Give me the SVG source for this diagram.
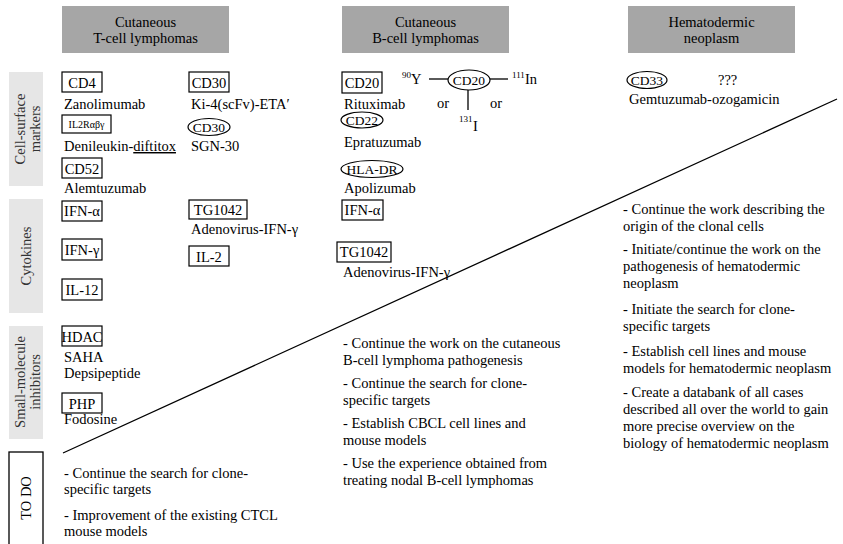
<svg xmlns="http://www.w3.org/2000/svg" width="843" height="544" viewBox="0 0 843 544">
<style>
text{font-family:"Liberation Serif","Times New Roman",serif;font-size:14.5px;fill:#000}
.hdr rect{fill:#a6a6a6}
.hdr text{text-anchor:middle}
.side rect{fill:#e6e6e6}
.side text{fill:#333;text-anchor:middle}
.bx{fill:#fff;stroke:#000;stroke-width:1.2}
.el{fill:none;stroke:#000;stroke-width:1.2}
.c{text-anchor:middle}
.e{text-anchor:middle;font-size:13.5px}
.sup{font-size:9px}
.ln{stroke:#000;stroke-width:1.3;fill:none}
</style>
<rect width="843" height="544" fill="#fff"/>

<g id="header-ctcl" class="hdr"><rect x="62" y="6" width="167" height="47"/><text x="145.5" y="27">Cutaneous</text><text x="145.5" y="43">T-cell lymphomas</text></g>
<g id="header-cbcl" class="hdr"><rect x="342" y="6" width="167" height="47"/><text x="425.5" y="27">Cutaneous</text><text x="425.5" y="43">B-cell lymphomas</text></g>
<g id="header-hdn" class="hdr"><rect x="628" y="6" width="167" height="47"/><text x="711.5" y="27">Hematodermic</text><text x="711.5" y="43">neoplasm</text></g>

<g id="side-cell-surface" class="side"><rect x="9" y="72" width="34" height="114"/><text transform="translate(25,129) rotate(-90)">Cell-surface</text><text transform="translate(40,129) rotate(-90)">markers</text></g>
<g id="side-cytokines" class="side"><rect x="9" y="199" width="34" height="114"/><text transform="translate(31,256) rotate(-90)">Cytokines</text></g>
<g id="side-small-molecule" class="side"><rect x="9" y="326" width="34" height="113"/><text transform="translate(25,382) rotate(-90)">Small-molecule</text><text transform="translate(40,382) rotate(-90)">inhibitors</text></g>
<g id="side-todo"><rect x="9" y="452" width="34" height="100" fill="#fff" stroke="#000" stroke-width="1.3"/><text transform="translate(31,498) rotate(-90)" text-anchor="middle">TO DO</text></g>

<g id="connectors">
<line class="ln" x1="63" y1="453" x2="837" y2="99"/>
<line class="ln" x1="429" y1="79" x2="448" y2="79"/>
<line class="ln" x1="490" y1="79" x2="508" y2="79"/>
<line class="ln" x1="468" y1="90" x2="468" y2="110"/>
</g>

<g id="cd4"><rect class="bx" x="62" y="72" width="40" height="20"/><text class="c" x="82" y="88">CD4</text><text x="64" y="109">Zanolimumab</text></g>
<g id="il2r"><rect class="bx" x="62" y="115" width="49" height="18"/><text class="c" x="86.5" y="128" style="font-size:10px">IL2Rαβγ</text><text x="64" y="151">Denileukin-<tspan style="text-decoration:underline">diftitox</tspan></text></g>
<g id="cd52"><rect class="bx" x="62" y="158" width="40" height="20"/><text class="c" x="82" y="174">CD52</text><text x="64" y="193">Alemtuzumab</text></g>
<g id="cd30-box"><rect class="bx" x="189" y="72" width="40" height="20"/><text class="c" x="209" y="88">CD30</text><text x="191" y="109">Ki-4(scFv)-ETA′</text></g>
<g id="cd30-ellipse"><ellipse class="el" cx="209" cy="127" rx="21" ry="8.5"/><text class="e" x="209" y="132">CD30</text><text x="191" y="151">SGN-30</text></g>

<g id="ifna-t"><rect class="bx" x="62" y="201" width="40" height="20"/><text class="c" x="82" y="216">IFN-α</text></g>
<g id="ifng-t"><rect class="bx" x="62" y="239" width="40" height="21"/><text class="c" x="82" y="255">IFN-γ</text></g>
<g id="il12"><rect class="bx" x="62" y="279" width="40" height="21"/><text class="c" x="82" y="295">IL-12</text></g>
<g id="tg1042-t"><rect class="bx" x="189" y="200" width="58" height="19"/><text class="c" x="218" y="215">TG1042</text><text x="191" y="234">Adenovirus-IFN-γ</text></g>
<g id="il2"><rect class="bx" x="189" y="246" width="40" height="20"/><text class="c" x="209" y="262">IL-2</text></g>

<g id="hdac"><rect class="bx" x="62" y="326" width="40" height="20"/><text class="c" x="82" y="342">HDAC</text><text x="64" y="362">SAHA</text><text x="64" y="378">Depsipeptide</text></g>
<g id="php"><rect class="bx" x="62" y="393" width="40" height="20"/><text class="c" x="82" y="409">PHP</text><text x="64" y="424">Fodosine</text></g>

<g id="cd20-box"><rect class="bx" x="342" y="72" width="40" height="21"/><text class="c" x="362" y="88">CD20</text><text x="344" y="109">Rituximab</text></g>
<g id="cd20-radio"><ellipse class="el" cx="469" cy="80" rx="21" ry="10"/><text class="e" x="469" y="85">CD20</text>
<text class="sup" x="402" y="78">90</text><text x="411" y="84">Y</text>
<text class="sup" x="512" y="78">111</text><text x="525" y="84">In</text>
<text class="sup" x="459" y="122">131</text><text x="473" y="131">I</text>
<text x="437" y="108">or</text><text x="490" y="108">or</text></g>
<g id="cd22"><ellipse class="el" cx="362" cy="120" rx="21" ry="8"/><text class="e" x="362" y="125">CD22</text><text x="344" y="147">Epratuzumab</text></g>
<g id="hla-dr"><ellipse class="el" cx="372" cy="169" rx="31" ry="8.5"/><text class="e" x="372" y="174">HLA-DR</text><text x="344" y="193">Apolizumab</text></g>
<g id="ifna-b"><rect class="bx" x="342" y="200" width="41" height="20"/><text class="c" x="362.5" y="215">IFN-α</text></g>
<g id="tg1042-b"><rect class="bx" x="337" y="242" width="54" height="20"/><text class="c" x="364" y="257">TG1042</text><text x="343" y="277">Adenovirus-IFN-γ</text></g>

<g id="cd33"><ellipse class="el" cx="647" cy="80" rx="20" ry="8.5"/><text class="e" x="647" y="85">CD33</text><text x="718" y="85">???</text><text x="629" y="104">Gemtuzumab-ozogamicin</text></g>

<g id="todo-ctcl">
<text x="64" y="478">- Continue the search for clone-</text>
<text x="64" y="494">specific targets</text>
<text x="64" y="520">- Improvement of the existing CTCL</text>
<text x="64" y="536">mouse models</text>
</g>
<g id="todo-cbcl">
<text x="343" y="348">- Continue the work on the cutaneous</text>
<text x="343" y="365">B-cell lymphoma pathogenesis</text>
<text x="343" y="388">- Continue the search for clone-</text>
<text x="343" y="405">specific targets</text>
<text x="343" y="428">- Establish CBCL cell lines and</text>
<text x="343" y="445">mouse models</text>
<text x="343" y="468">- Use the experience obtained from</text>
<text x="343" y="485">treating nodal B-cell lymphomas</text>
</g>
<g id="todo-hdn">
<text x="623" y="214">- Continue the work describing the</text>
<text x="623" y="231">origin of the clonal cells</text>
<text x="623" y="254">- Initiate/continue the work on the</text>
<text x="623" y="271">pathogenesis of hematodermic</text>
<text x="623" y="288">neoplasm</text>
<text x="623" y="314">- Initiate the search for clone-</text>
<text x="623" y="331">specific targets</text>
<text x="623" y="356">- Establish cell lines and mouse</text>
<text x="623" y="373">models for hematodermic neoplasm</text>
<text x="623" y="397">- Create a databank of all cases</text>
<text x="623" y="414">described all over the world to gain</text>
<text x="623" y="431">more precise overview on the</text>
<text x="623" y="448">biology of hematodermic neoplasm</text>
</g>
</svg>
